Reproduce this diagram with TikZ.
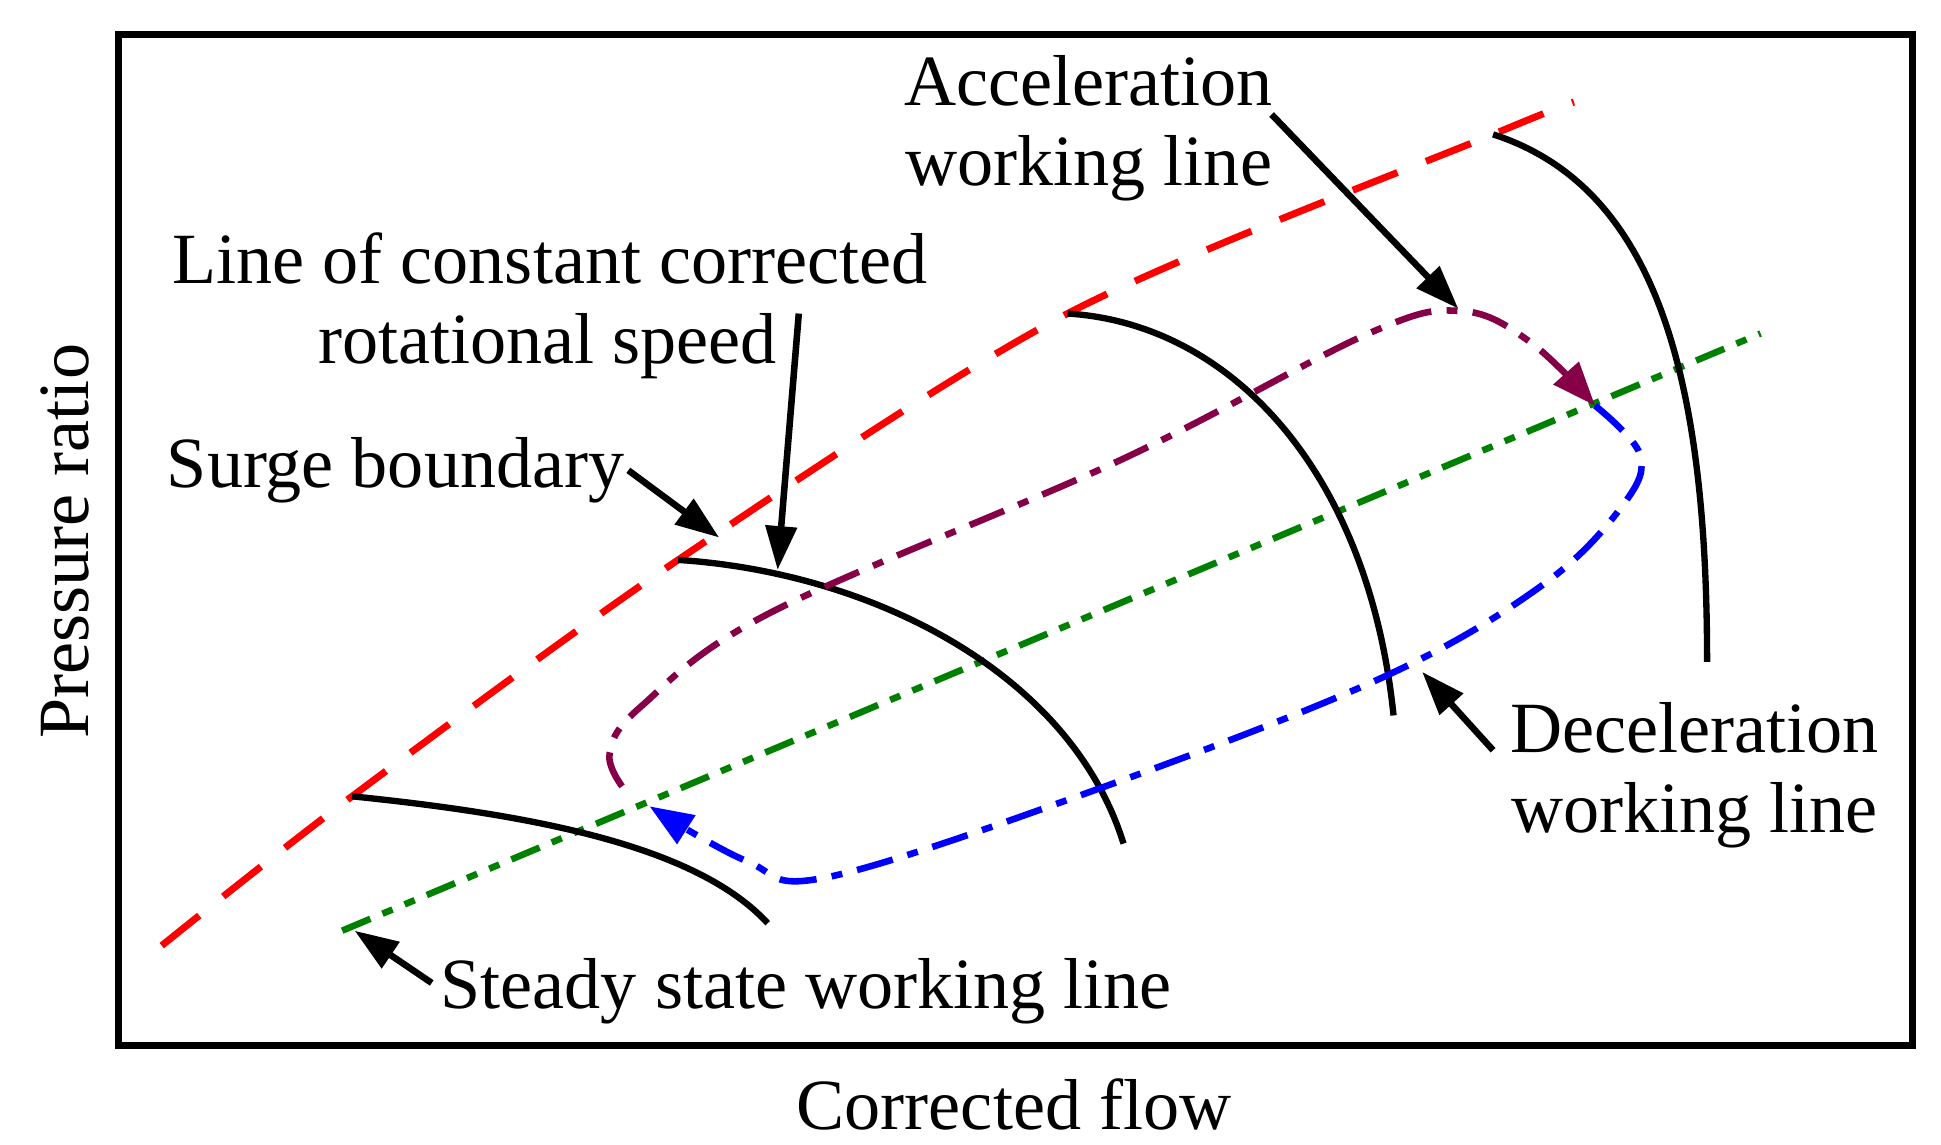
\documentclass[tikz,border=0pt]{standalone}
\usepackage{fontspec}
\setmainfont{Liberation Serif}
\usetikzlibrary{arrows.meta}
\begin{document}
\begin{tikzpicture}[x=0.02cm,y=-0.02cm,
 lbl/.style={font=\fontsize{33}{38}\selectfont,inner sep=0pt,align=center},
 crv/.style={line width=2.9pt},
 arr/.style={line width=3pt,-{Triangle[length=20pt,width=14pt]}},
 dd/.style={line width=3pt,dash pattern=on 17pt off 7pt on 5pt off 7pt}]
\useasboundingbox (0,0) rectangle (1560,920);
\draw[line width=3.2pt] (95,28) rectangle (1537,840);
\draw[red,line width=3.2pt,dash pattern=on 22pt off 14pt] plot[smooth,tension=0.5] coordinates {(130,760) (283,640) (545,450) (858,252) (1200,108) (1265,82)};
\draw[green!50!black,line width=3pt,dash pattern=on 14pt off 6pt on 5pt off 6pt on 5pt off 6pt] (275,748) -- (1415,268);
\draw[crv] (283,640) .. controls (430,655) and (560,680) .. (617,742);
\draw[crv] (545,450) .. controls (700,460) and (860,540) .. (903,678);
\draw[crv] (858,252) .. controls (990,260) and (1100,380) .. (1120,575);
\draw[crv] (1200,108) .. controls (1330,150) and (1372,300) .. (1372,532);
\draw[dd,violet!70!red!80!black,-{Triangle[length=20pt,width=15pt]}] plot[smooth,tension=0.6] coordinates {(500,632) (490,605) (515,568) (620,492) (900,370) (1100,268) (1175,250) (1230,275) (1282,326)};
\draw[dd,blue,-{Triangle[length=20pt,width=15pt]}] plot[smooth,tension=0.6] coordinates {(1282,326) (1318,365) (1305,405) (1240,470) (1110,545) (880,635) (665,705) (600,692) (522,648)};
\draw[arr] (1022,92) -- (1172,248);
\draw[arr] (642,252) -- (625,458);
\draw[arr] (505,378) -- (578,432);
\draw[arr] (1200,603) -- (1143,540);
\draw[arr] (347,790) -- (285,748);
\node[lbl] (a1) at (875,65) {Acceleration};
\node[lbl] (a2) at (875,135) {working line};
\node[lbl] (c1) at (442,208) {Line of constant corrected};
\node[lbl] (c2) at (440,278) {rotational speed};
\node[lbl] (s) at (318,378) {Surge boundary};
\node[lbl] (d1) at (1362,585) {Deceleration};
\node[lbl] (d2) at (1362,655) {working line};
\node[lbl] (st) at (648,797) {Steady state working line};
\node[lbl] (x) at (815,888) {Corrected flow};
\node[lbl,rotate=90] (y) at (52,435) {Pressure ratio};
\end{tikzpicture}
\end{document}
